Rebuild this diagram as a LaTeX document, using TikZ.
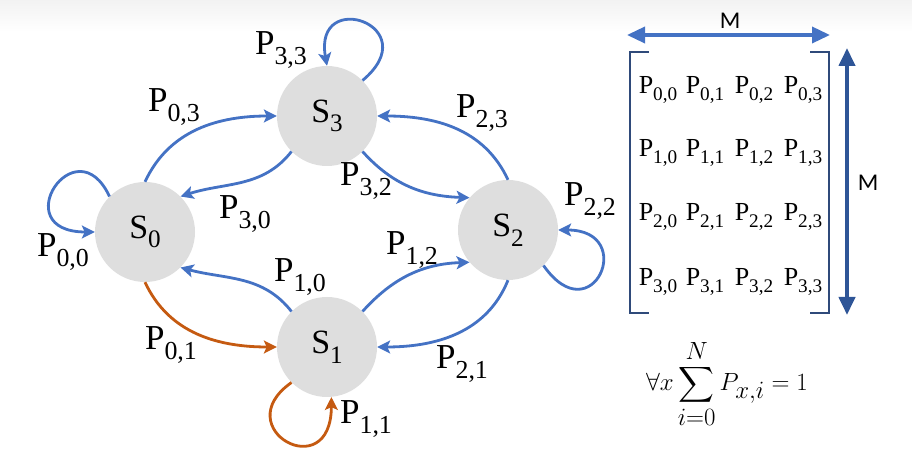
\documentclass[tikz,border=0pt]{standalone}
\usepackage{amsmath}
\usepackage{fontspec}
\setmainfont{Liberation Serif}
\newfontfamily\dimfont{Carlito}
\usetikzlibrary{arrows.meta,calc}

\definecolor{edgeblue}{HTML}{4472C4}
\definecolor{edgeorange}{HTML}{C55A11}
\definecolor{statefill}{HTML}{DEDEDE}
\definecolor{bracketblue}{HTML}{2F4A7A}
\definecolor{dimblue}{HTML}{2E5597}

% letter with a lowered, reduced index
\newcommand\idx[2]{#1\raisebox{-0.28em}{\scalebox{0.74}{#2}}}

\begin{document}
\begin{tikzpicture}[x=1pt,y=1pt,
  state/.style={circle,fill=statefill,minimum size=100pt,inner sep=0pt,
    font=\fontsize{34}{36}\selectfont},
  trans/.style={line width=2.8pt,edgeblue,
    -{Stealth[length=13pt,width=13pt,inset=3pt]}},
  transo/.style={trans,edgeorange},
  plabel/.style={inner sep=0pt,font=\fontsize{35}{38}\selectfont},
  entry/.style={inner sep=0pt,font=\fontsize{26}{28}\selectfont},
  bracket/.style={line width=2pt,bracketblue},
  dimarrow/.style={line width=3.5pt,edgeblue,
    {Triangle[length=18pt,width=16pt]}-{Triangle[length=18pt,width=16pt]}},
  dimlabel/.style={inner sep=0pt,font=\dimfont\fontsize{24}{26}\selectfont}
]
\useasboundingbox (0,0) rectangle (912,460);
\fill[top color=black!5,bottom color=white] (0,428) rectangle (912,460);

% states
\node[state] (s0) at (145,228) {\idx{S}{0}};
\node[state] (s1) at (327,113) {\idx{S}{1}};
\node[state] (s2) at (508,230) {\idx{S}{2}};
\node[state] (s3) at (327,344) {\idx{S}{3}};

% transitions between states
\draw[trans]  (s0.90)  to[out=65,in=180]  (s3.180);
\draw[trans]  (s3.225) to[out=232,in=18]  (s0.45);
\draw[trans]  (s3.-45) to[out=-48,in=178] (s2.140);
\draw[trans]  (s2.90)  to[out=115,in=0]   (s3.0);
\draw[trans]  (s1.45)  to[out=48,in=182]  (s2.220);
\draw[trans]  (s2.-90) to[out=-112,in=0]  (s1.0);
\draw[trans]  (s1.135) to[out=128,in=-15] (s0.-45);
\draw[transo] (s0.-90) to[out=-65,in=180] (s1.180);

% self loops
\draw[trans]  (s0.135) .. controls +(115:80) and +(180:90)  .. (s0.180);
\draw[trans]  (s3.45)  .. controls +(40:85)  and +(100:80)  .. (s3.90);
\draw[trans]  (s2.-45) .. controls +(-55:85) and +(0:80)    .. (s2.0);
\draw[transo] (s1.225) .. controls +(215:80) and +(-90:90)  .. (s1.-85);

% transition probabilities
\node[plabel] (l33) at (281,410) {\idx{P}{3,3}};
\node[plabel] (l03) at (174,353) {\idx{P}{0,3}};
\node[plabel] (l30) at (245,246) {\idx{P}{3,0}};
\node[plabel] (l32) at (366,279) {\idx{P}{3,2}};
\node[plabel] (l23) at (482,347) {\idx{P}{2,3}};
\node[plabel] (l22) at (590,259) {\idx{P}{2,2}};
\node[plabel] (l12) at (412,210) {\idx{P}{1,2}};
\node[plabel] (l21) at (462,96)  {\idx{P}{2,1}};
\node[plabel] (l10) at (300,183) {\idx{P}{1,0}};
\node[plabel] (l00) at (63,208)  {\idx{P}{0,0}};
\node[plabel] (l01) at (171,115) {\idx{P}{0,1}};
\node[plabel] (l11) at (366,41)  {\idx{P}{1,1}};

% transition matrix
\foreach \r/\ry in {0/370,1/307,2/243,3/178}
  \foreach \c/\cx in {0/658,1/705,2/754,3/803}
    \node[entry] (m\r\c) at (\cx,\ry) {\idx{P}{\r,\c}};

\coordinate (mtl) at (630,408);
\coordinate (mbr) at (829,147);
\draw[bracket] ($(mtl)+(19,0)$) -- (mtl) -- (mtl |- mbr) -- ++(19,0);
\draw[bracket] ($(mbr)+(-19,0)$) -- (mbr) -- (mbr |- mtl) -- ++(-19,0);

% matrix dimensions
\coordinate (hl) at (627,425);
\coordinate (hr) at (830,425);
\draw[dimarrow] (hl) -- (hr);
\node[dimlabel] (mh) at (730,439) {M};
\coordinate (vt) at (847,412);
\coordinate (vb) at (847,145);
\draw[dimarrow,dimblue,line width=4pt] (vt) -- (vb);
\node[dimlabel] (mv) at (868,277) {M};

% row normalisation
\node (sumeq) at (727,76)
  {\fontsize{34}{36}\selectfont$\displaystyle \forall x \sum_{i=0}^{N} P_{x,i} = 1$};
\end{tikzpicture}
\end{document}
